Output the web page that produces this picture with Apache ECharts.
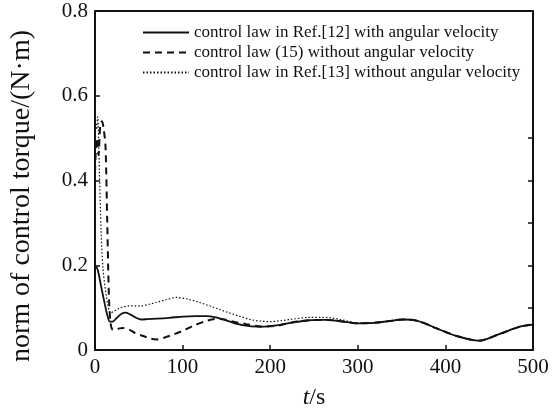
<!DOCTYPE html>
<html>
<head>
<meta charset="utf-8">
<script src="https://cdn.jsdelivr.net/npm/echarts@6/dist/echarts.min.js"></script>
<style>html,body{margin:0;padding:0;background:#fff}#c{width:552px;height:408px}</style>
</head>
<body>
<div id="c"></div>
<script>
const seriesNames = [
  'control law in Ref.[12] with angular velocity',
  'control law (15) without angular velocity',
  'control law in Ref.[13] without angular velocity'
];
const xTicks = [0, 100, 200, 300, 400, 500];
const yTicks = [0, 0.2, 0.4, 0.6, 0.8];

const tRef12 = [0, 3, 7, 11, 14, 17, 20, 25, 30, 35, 40, 47, 53, 60, 71, 85, 101, 115, 127, 138, 148, 158, 170, 185, 202, 223, 240, 253, 265, 276, 290, 299, 318, 335, 352, 363, 375, 390, 413, 438, 462, 485, 500];
const vRef12 = [0.20, 0.19, 0.15, 0.11, 0.083, 0.067, 0.067, 0.076, 0.085, 0.088, 0.084, 0.076, 0.072, 0.073, 0.074, 0.076, 0.079, 0.080, 0.080, 0.077, 0.071, 0.064, 0.058, 0.055, 0.057, 0.064, 0.069, 0.071, 0.071, 0.069, 0.065, 0.063, 0.064, 0.068, 0.072, 0.071, 0.064, 0.051, 0.033, 0.022, 0.038, 0.055, 0.060];

const tEq15 = [0, 2, 4, 6, 8, 10, 12, 14, 16, 18, 20, 23, 28, 32, 40, 46, 55, 63, 70, 79, 90, 102, 112, 125, 137, 148, 160, 173, 192, 207, 220, 230, 253, 265, 276, 290, 299, 318, 335, 352, 363, 375, 390, 413, 438, 462, 485, 500];
const vEq15 = [0.42, 0.50, 0.46, 0.53, 0.54, 0.52, 0.48, 0.30, 0.12, 0.06, 0.048, 0.047, 0.051, 0.052, 0.047, 0.040, 0.033, 0.027, 0.025, 0.029, 0.037, 0.047, 0.057, 0.067, 0.073, 0.072, 0.066, 0.061, 0.055, 0.057, 0.063, 0.067, 0.071, 0.071, 0.069, 0.065, 0.063, 0.064, 0.068, 0.072, 0.071, 0.064, 0.051, 0.033, 0.022, 0.038, 0.055, 0.060];

const tRef13 = [0, 1.5, 3, 5, 7, 9, 13, 18, 22, 27, 32, 40, 53, 62, 70, 80, 93, 106, 118, 131, 143, 154, 166, 177, 190, 200, 212, 223, 245, 258, 269, 280, 291, 299, 318, 335, 352, 363, 375, 390, 413, 438, 462, 485, 500];
const vRef13 = [0.55, 0.52, 0.55, 0.42, 0.28, 0.196, 0.126, 0.087, 0.092, 0.098, 0.102, 0.104, 0.104, 0.108, 0.112, 0.118, 0.124, 0.120, 0.113, 0.104, 0.095, 0.087, 0.079, 0.072, 0.068, 0.067, 0.069, 0.072, 0.077, 0.077, 0.076, 0.072, 0.067, 0.064, 0.064, 0.068, 0.072, 0.071, 0.064, 0.051, 0.033, 0.022, 0.038, 0.055, 0.060];

function pairs(t, v) { return t.map((x, i) => [x, v[i]]); }

const FONT = '"Liberation Serif", "Times New Roman", serif';
const chart = echarts.init(document.getElementById('c'), null, {renderer: 'canvas'});
chart.setOption({
  animation: false,
  backgroundColor: '#fff',
  grid: {left: 95, right: 19, top: 11, bottom: 58, containLabel: false, outerBoundsMode: 'none'},
  legend: {
    orient: 'vertical', left: 137, top: 19,
    itemWidth: 46, itemHeight: 14, itemGap: 3, itemTextGap: 13,
    itemStyle: {opacity: 0, borderWidth: 0},
    textStyle: {fontFamily: FONT, fontSize: 17, color: '#111'},
    data: seriesNames
  },
  xAxis: {
    type: 'value', min: 0, max: 500, interval: 100,
    name: '{i|t}/s', nameLocation: 'middle', nameGap: 36,
    nameTextStyle: {fontFamily: FONT, fontSize: 24, color: '#111',
      rich: {i: {fontFamily: FONT, fontStyle: 'italic', fontSize: 24, color: '#111'}}},
    axisLine: {show: true, lineStyle: {color: '#111', width: 2}},
    axisTick: {show: true, inside: true, length: 5, lineStyle: {color: '#111', width: 1.5}},
    axisLabel: {fontFamily: FONT, fontSize: 21, color: '#111', margin: 7,
      formatter: v => xTicks.includes(v) ? String(v) : ''},
    splitLine: {show: false}
  },
  yAxis: [{
    type: 'value', min: 0, max: 0.8, interval: 0.2,
    axisLine: {show: true, lineStyle: {color: '#111', width: 2}},
    axisTick: {show: true, inside: true, length: 5, lineStyle: {color: '#111', width: 1.5}},
    axisLabel: {fontFamily: FONT, fontSize: 21, color: '#111', margin: 7,
      formatter: v => { const r = Math.round(v * 10) / 10; return yTicks.includes(r) ? (r === 0 ? '0' : r.toFixed(1)) : ''; }},
    splitLine: {show: false}
  }, {
    type: 'value', min: 0, max: 0.8, interval: 0.1, position: 'right',
    axisLine: {show: true, lineStyle: {color: '#111', width: 2}},
    axisTick: {show: true, inside: true, length: 5, lineStyle: {color: '#111', width: 1.5},
      customValues: [0.1, 0.2, 0.3, 0.4, 0.5]},
    axisLabel: {show: false},
    splitLine: {show: false}
  }],
  graphic: [
    {type: 'rect', shape: {x: 95, y: 11, width: 438, height: 0}, style: {stroke: '#111', lineWidth: 2, fill: null}, silent: true},
    {type: 'text', x: 22, y: 196, rotation: Math.PI / 2,
      style: {text: 'norm of control torque/(N·m)', font: '28px ' + FONT, fill: '#111', align: 'center', verticalAlign: 'middle'}}
  ],
  series: [
    {name: seriesNames[0], type: 'line', data: pairs(tRef12, vRef12), showSymbol: false, symbol: 'none', smooth: 0.3,
      lineStyle: {color: '#111', width: 1.8, type: 'solid'}, itemStyle: {color: '#111'}},
    {name: seriesNames[1], type: 'line', data: pairs(tEq15, vEq15), showSymbol: false, symbol: 'none', smooth: 0.3,
      lineStyle: {color: '#111', width: 2, type: [7, 5]}, itemStyle: {color: '#111'}},
    {name: seriesNames[2], type: 'line', data: pairs(tRef13, vRef13), showSymbol: false, symbol: 'none', smooth: 0.3,
      lineStyle: {color: '#111', width: 1.2, type: [1.5, 2]}, itemStyle: {color: '#111'}}
  ]
});
</script>
</body>
</html>
